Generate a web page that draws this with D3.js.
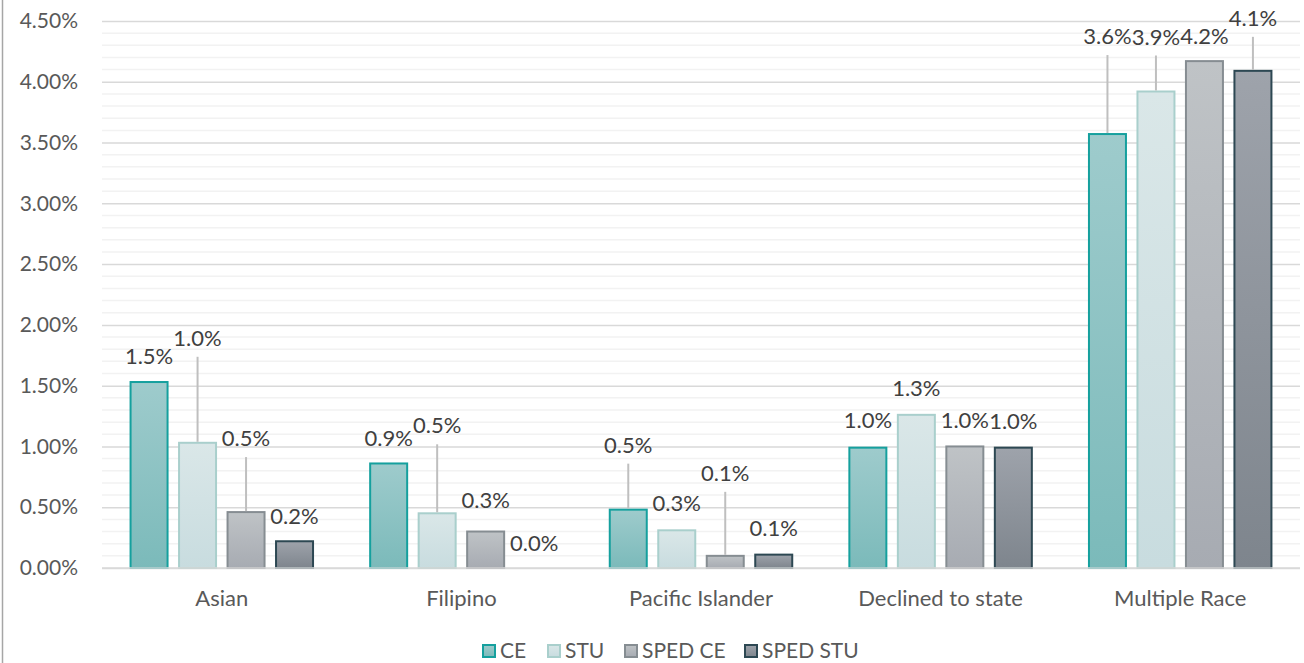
<!DOCTYPE html>
<html><head><meta charset="utf-8">
<script src="https://cdn.jsdelivr.net/npm/d3@7"></script>
<style>body{margin:0;background:#fff;} svg{display:block;font-family:Lato,"Open Sans",sans-serif;}</style>
</head><body>
<svg id="c" width="1304" height="663"></svg>
<script>
const categories = ["Asian","Filipino","Pacific Islander","Declined to state","Multiple Race"];
const series = ["CE","STU","SPED CE","SPED STU"];
const CE      = [0.0153,0.0086,0.0048,0.0099,0.0357];
const STU     = [0.0103,0.0045,0.0031,0.0126,0.0392];
const SPED_CE = [0.0046,0.0030,0.0010,0.0100,0.0417];
const SPED_STU= [0.0022,0.0000,0.0011,0.0099,0.0409];
const labels = [
  ["1.5%","0.9%","0.5%","1.0%","3.6%"],
  ["1.0%","0.5%","0.3%","1.3%","3.9%"],
  ["0.5%","0.3%","0.1%","1.0%","4.2%"],
  ["0.2%","0.0%","0.1%","1.0%","4.1%"]
];
const yTicks = [0,0.005,0.01,0.015,0.02,0.025,0.03,0.035,0.04,0.045];
const values = [CE,STU,SPED_CE,SPED_STU];

// layout / style (not data)
const labelLift = [
  [18,17,57,20,90],
  [97,80,19,19,47],
  [66,24,75,18,17],
  [17,17,19,19,45]
];
const leader = [
  [false,false,true,false,true],
  [true,true,false,false,true],
  [true,false,true,false,false],
  [false,false,false,false,true]
];
const fills = [["#9ecbcc","#7bbaba"],["#dae7e8","#c8dcdf"],["#bfc3c6","#a7abb2"],["#9ea3ab","#7e858d"]];
const strokes = ["#15a09e","#a9cfcc","#868d92","#2d4853"];

const svg = d3.select("#c");
const m = {l:102, r:1300, t:21, b:568};
const x0 = d3.scaleBand().domain(categories).range([m.l,m.r]);
const x1 = d3.scaleBand().domain(series).range([0,x0.bandwidth()]).paddingInner(0.237).paddingOuter(0.589);
const y = d3.scaleLinear().domain([0,0.045]).range([m.b,m.t]);

const defs = svg.append("defs");
series.forEach((s,i)=>{
  const g = defs.append("linearGradient").attr("id","g"+i).attr("x1",0).attr("y1",0).attr("x2",0).attr("y2",1);
  g.append("stop").attr("offset","0%").attr("stop-color",fills[i][0]);
  g.append("stop").attr("offset","100%").attr("stop-color",fills[i][1]);
});

// left border
svg.append("line").attr("x1",2.5).attr("x2",2.5).attr("y1",0).attr("y2",663).attr("stroke","#a6a6a6").attr("stroke-width",1.5);

// minor gridlines
const minor = d3.range(0,0.0451,0.001).filter(v=>Math.round(v*1000)%5!==0);
svg.append("g").selectAll("line").data(minor).join("line")
  .attr("x1",m.l).attr("x2",m.r).attr("y1",d=>y(d)).attr("y2",d=>y(d))
  .attr("stroke","#f2f2f2").attr("stroke-width",1.5);
// major gridlines via axis
const yAxis = svg.append("g").attr("transform",`translate(${m.l},0)`)
  .call(d3.axisLeft(y).tickValues(yTicks).tickFormat(d3.format(".2%")).tickSize(-(m.r-m.l)).tickPadding(24));
yAxis.select(".domain").remove();
yAxis.selectAll(".tick line").attr("stroke","#d9d9d9").attr("stroke-width",1.5);
yAxis.selectAll(".tick text").attr("fill","#595959").style("font-size","21px").attr("font-family","Lato");

// bars
const groups = svg.append("g").selectAll("g").data(categories).join("g")
  .attr("transform",d=>`translate(${x0(d)},0)`);
series.forEach((s,i)=>{
  groups.append("rect")
    .attr("x",x1(s)).attr("width",x1.bandwidth())
    .attr("y",(d,j)=>y(values[i][j])).attr("height",(d,j)=>y(0)-y(values[i][j]))
    .attr("fill",`url(#g${i})`).attr("stroke",strokes[i]).attr("stroke-width",2)
    .style("display",(d,j)=>values[i][j]>0?null:"none");
});
// baseline
svg.append("line").attr("x1",m.l).attr("x2",m.r).attr("y1",y(0)).attr("y2",y(0)).attr("stroke","#d9d9d9").attr("stroke-width",1.5);

// labels
series.forEach((s,i)=>{
  groups.each(function(d,j){
    const g = d3.select(this);
    const cx = x1(s)+x1.bandwidth()/2;
    const top = y(values[i][j]);
    const base = top - labelLift[i][j];
    if(leader[i][j]){
      g.append("line").attr("x1",cx).attr("x2",cx).attr("y1",base+11).attr("y2",top-1)
        .attr("stroke","#bfbfbf").attr("stroke-width",2);
    }
    g.append("text").attr("x",cx).attr("y",base).attr("text-anchor","middle")
      .attr("fill","#404040").style("font-size","22px").text(labels[i][j]);
  });
});

// category labels
svg.append("g").selectAll("text").data(categories).join("text")
  .attr("x",d=>x0(d)+x0.bandwidth()/2).attr("y",606).attr("text-anchor","middle")
  .attr("fill","#595959").style("font-size","22px").text(d=>d);

// legend
const legX = [483,548,625,745];
const leg = svg.append("g");
series.forEach((s,i)=>{
  leg.append("rect").attr("x",legX[i]).attr("y",645).attr("width",12).attr("height",12)
    .attr("fill",`url(#g${i})`).attr("stroke",strokes[i]).attr("stroke-width",2);
  leg.append("text").attr("x",legX[i]+17).attr("y",658).attr("fill","#595959").style("font-size","21px").text(s);
});
</script>
</body></html>
